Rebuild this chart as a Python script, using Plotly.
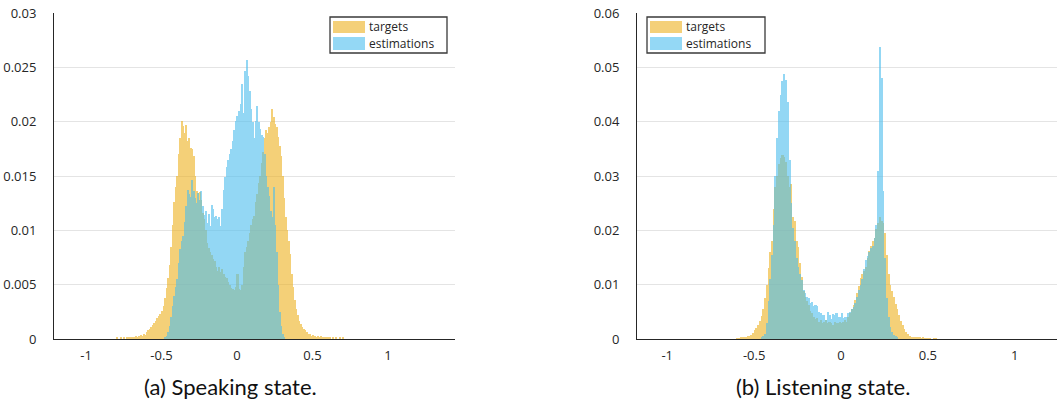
import numpy as np
import plotly.graph_objects as go

# ---------------- data (bin width 0.01, probability per bin) ----------------
BIN = 0.01

# (a) Speaking state
speak_targets_start = -0.80
speak_targets = [
    .0001, 0, 0, .0001, 0, .0001, 0, .0001, .0001, .0002,
    .0001, .0002, .0001, .0003, .0002, .0003, .0004, .0003, .0005, .0004,
    .0006, .0008, .0009, .0011, .0013, .0015, .0017, .0019, .0021, .0023,
    .0026, .0030, .0038, .0047, .0056, .0068, .0085, .0105, .0126, .0140,
    .0150, .0170, .0185, .0201, .0196, .0190, .0197, .0182, .0185, .0176,
    .0175, .0168, .0150, .0136, .0134, .0135, .0128, .0116, .0110, .0100,
    .0088, .0084, .0080, .0077, .0074, .0072, .0066, .0063, .0066, .0062,
    .0064, .0060, .0057, .0056, .0052, .0050, .0047, .0046, .0045, .0048,
    .0060, .0046, .0045, .0050, .0066, .0080, .0085, .0090, .0098, .0105,
    .0110, .0113, .0126, .0133, .0144, .0150, .0162, .0172, .0185, .0192,
    .0190, .0195, .0200, .0212, .0204, .0198, .0195, .0186, .0178, .0168,
    .0150, .0130, .0112, .0100, .0090, .0078, .0060, .0048, .0036, .0028,
    .0022, .0017, .0014, .0011, .0009, .0008, .0006, .0005, .0005, .0003,
    .0004, .0003, .0002, .0003, .0002, .0003, .0002, .0001, .0002, .0001,
    .0001, .0001, 0, .0001, 0, .0001, 0, 0, .0001, 0, .0001,
]
speak_estim_start = -0.48
speak_estimations = [
    .0001, .0003, .0006, .0012, .0020, .0030, .0040, .0048,
    .0055, .0070, .0083, .0090, .0095, .0108, .0122, .0137, .0133, .0131,
    .0146, .0136, .0130, .0125, .0134, .0128, .0136, .0122, .0114, .0118,
    .0107, .0115, .0104, .0123, .0120, .0112, .0113, .0110, .0112, .0104,
    .0120, .0137, .0149, .0158, .0165, .0170, .0175, .0182, .0192, .0201,
    .0205, .0210, .0216, .0235, .0208, .0247, .0257, .0242, .0228, .0212,
    .0200, .0185, .0201, .0214, .0200, .0193, .0188, .0186, .0170, .0150,
    .0140, .0132, .0118, .0112, .0140, .0105, .0080, .0050, .0025, .0012,
    .0005, .0002,
]

# (b) Listening state
listen_targets_start = -0.60
listen_targets = [
    .0001, .0001, .0002, .0002, .0003, .0004, .0005, .0006, .0008, .0011,
    .0017, .0021, .0026, .0033, .0043, .0055, .0075, .0100, .0130, .0160,
    .0180, .0240, .0280, .0300, .0322, .0334, .0339, .0335, .0325, .0300,
    .0280, .0285, .0224, .0218, .0181, .0169, .0139, .0114, .0088, .0078,
    .0070, .0062, .0052, .0047, .0041, .0036, .0038, .0032, .0035, .0029,
    .0032, .0035, .0029, .0032, .0029, .0026, .0032, .0029, .0029, .0032,
    .0029, .0032, .0035, .0032, .0041, .0048, .0055, .0063, .0072, .0085,
    .0098, .0112, .0119, .0125, .0132, .0150, .0162, .0172, .0180, .0186,
    .0203, .0214, .0224, .0218, .0213, .0195, .0155, .0120, .0100, .0088,
    .0078, .0064, .0056, .0045, .0033, .0025, .0019, .0013, .0009, .0006,
    .0004, .0003, .0003, .0002, .0002, .0002, .0001, .0002, .0001, .0001,
    .0001, .0001, 0, .0001, .0001, 0,
]
listen_estim_start = -0.46
listen_estimations = [
    .0002, .0005, .0010, .0030, .0070, .0110,
    .0155, .0210, .0300, .0370, .0420, .0450, .0475, .0487, .0476, .0437,
    .0330, .0250, .0205, .0180, .0150, .0133, .0120, .0108, .0090, .0085,
    .0078, .0075, .0066, .0068, .0060, .0063, .0061, .0050, .0047, .0044,
    .0044, .0035, .0050, .0044, .0036, .0046, .0044, .0047, .0041, .0041,
    .0047, .0038, .0041, .0041, .0047, .0050, .0056, .0058, .0066, .0078,
    .0090, .0100, .0110, .0128, .0145, .0152, .0160, .0168, .0172, .0185,
    .0210, .0310, .0537, .0480, .0272, .0150, .0075, .0040, .0022, .0013,
    .0008, .0005, .0002,
]

series_names = ["targets", "estimations"]
captions = ["(a) Speaking state.", "(b) Listening state."]
x_ticks = [-1, -0.5, 0, 0.5, 1]
x_tick_text = ["-1", "-0.5", "0", "0.5", "1"]
y_ticks_a = [0, 0.005, 0.01, 0.015, 0.02, 0.025, 0.03]
y_tick_text_a = ["0", "0.005", "0.01", "0.015", "0.02", "0.025", "0.03"]
y_ticks_b = [0, 0.01, 0.02, 0.03, 0.04, 0.05, 0.06]
y_tick_text_b = ["0", "0.01", "0.02", "0.03", "0.04", "0.05", "0.06"]

# ---------------- styling ----------------
W, H = 1060, 402
ML, MR, MT, MB = 54, 3, 13, 63
PW = W - ML - MR
PH = H - MT - MB
ORANGE = "rgb(237,177,32)"
BLUE = "rgb(77,190,238)"
ALPHA = 0.6
FONT = "Open Sans"
TXT = "#262626"


def centers(start, vals):
    return start + BIN * np.arange(len(vals)) + BIN / 2


def px_x(p):
    return (p - ML) / PW


def px_y(p):
    return (H - MB - p) / PH


fig = go.Figure()
for xa, ya, (tstart, tv, estart, ev) in [
    ("x", "y", (speak_targets_start, speak_targets, speak_estim_start, speak_estimations)),
    ("x2", "y2", (listen_targets_start, listen_targets, listen_estim_start, listen_estimations)),
]:
    fig.add_trace(go.Bar(x=centers(tstart, tv), y=tv, width=BIN, name=series_names[0],
                         marker=dict(color=ORANGE, line=dict(width=0)), opacity=ALPHA,
                         xaxis=xa, yaxis=ya, showlegend=False))
    fig.add_trace(go.Bar(x=centers(estart, ev), y=ev, width=BIN, name=series_names[1],
                         marker=dict(color=BLUE, line=dict(width=0)), opacity=ALPHA,
                         xaxis=xa, yaxis=ya, showlegend=False))

# axis domains from pixel geometry
left_dom = [px_x(54), px_x(455)]
right_dom = [px_x(637), px_x(1057)]

xcommon = dict(tickvals=x_ticks, ticktext=x_tick_text, showgrid=False, zeroline=False,
               showline=True, linecolor=TXT, linewidth=1, ticks="",
               tickfont=dict(family=FONT, size=13, color=TXT), ticklabelstandoff=4)
ycommon = dict(showgrid=True, gridcolor="#e4e4e4", gridwidth=1, zeroline=False,
               showline=True, linecolor=TXT, linewidth=1, ticks="",
               tickfont=dict(family=FONT, size=13, color=TXT), ticklabelstandoff=14)

fig.update_layout(
    width=W, height=H, margin=dict(l=ML, r=MR, t=MT, b=MB),
    paper_bgcolor="white", plot_bgcolor="white",
    barmode="overlay", bargap=0,
    xaxis=dict(domain=left_dom, range=[-1.212, 1.444], anchor="y", **xcommon),
    yaxis=dict(domain=[0, 1], range=[0, 0.03], tickvals=y_ticks_a, ticktext=y_tick_text_a,
               anchor="x", **ycommon),
    xaxis2=dict(domain=right_dom, range=[-1.174, 1.243], anchor="y2", **xcommon),
    yaxis2=dict(domain=[0, 1], range=[0, 0.06], tickvals=y_ticks_b, ticktext=y_tick_text_b,
                anchor="x2", **ycommon),
    showlegend=False,
)

shapes = []
annotations = []
# custom legends (MATLAB-style boxes)
for box_x0, box_x1 in [(330, 447), (647, 765)]:
    shapes.append(dict(type="rect", xref="paper", yref="paper",
                       x0=px_x(box_x0), x1=px_x(box_x1), y0=px_y(53), y1=px_y(17),
                       line=dict(color="#3a3a3a", width=1.3), fillcolor="white", layer="above"))
    sw0, sw1 = box_x0 + 3, box_x0 + 35
    for (ytop, ybot, col, name) in [(21, 33, ORANGE, series_names[0]), (37, 50, BLUE, series_names[1])]:
        shapes.append(dict(type="rect", xref="paper", yref="paper",
                           x0=px_x(sw0), x1=px_x(sw1), y0=px_y(ybot), y1=px_y(ytop),
                           line=dict(width=0), fillcolor=col, opacity=ALPHA, layer="above"))
        annotations.append(dict(text=name, xref="paper", yref="paper",
                                x=px_x(sw1 + 2), y=px_y((ytop + ybot) / 2),
                                xanchor="left", yanchor="middle", showarrow=False,
                                font=dict(family=FONT, size=12, color=TXT)))

for cap, cx in zip(captions, [230.5, 823]):
    annotations.append(dict(text=cap, xref="paper", yref="paper", x=px_x(cx), y=px_y(386),
                            xanchor="center", yanchor="middle", showarrow=False,
                            font=dict(family="Lato", size=22, color="#111111")))

fig.update_layout(shapes=shapes, annotations=annotations)
fig.write_html("out.html", config={"displayModeBar": False},
               post_script="document.body.style.margin='0';")
